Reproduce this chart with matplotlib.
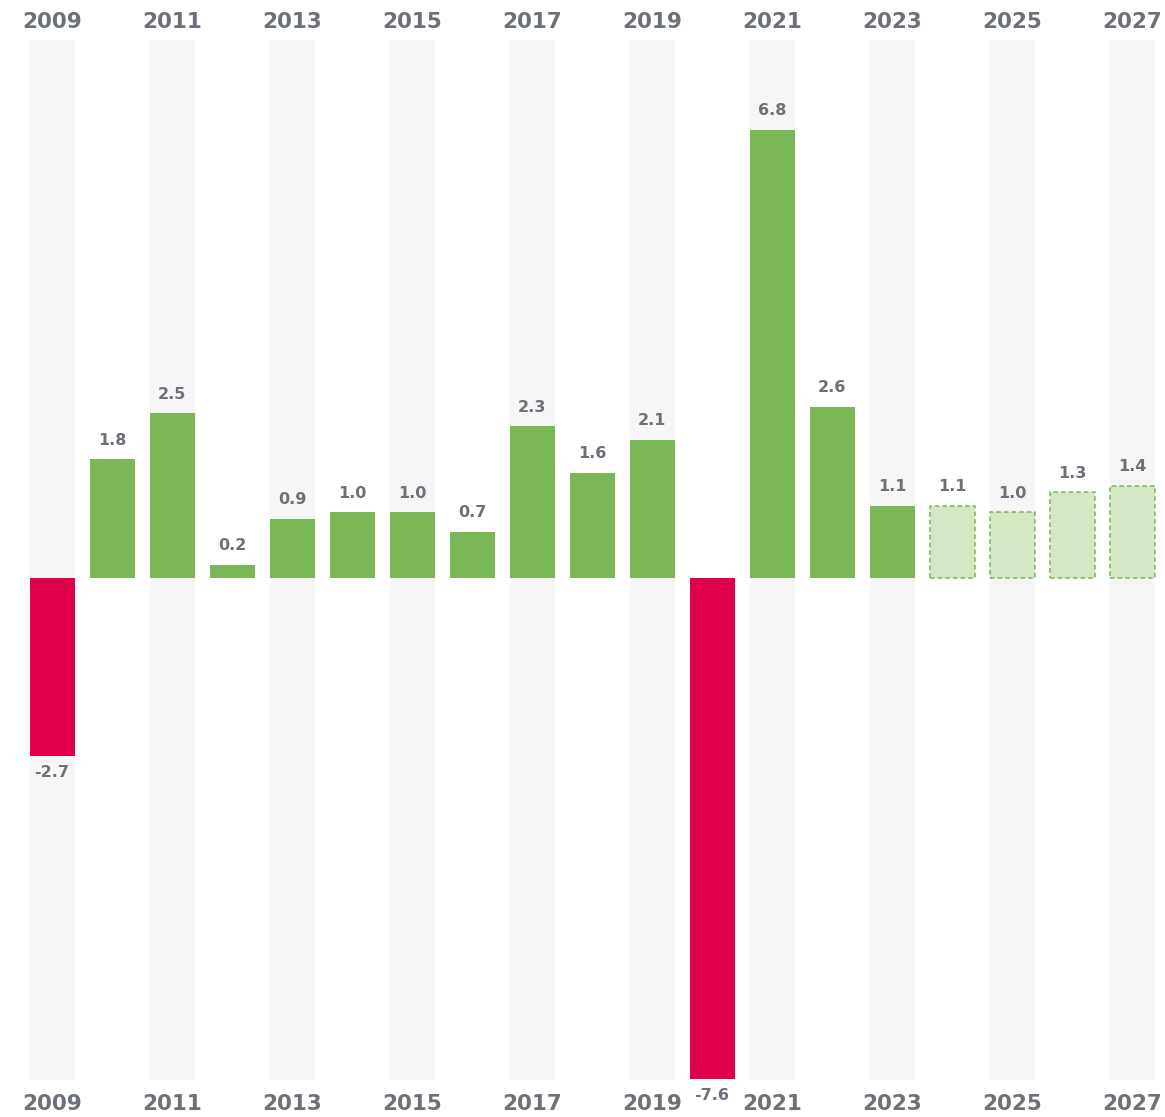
import matplotlib
matplotlib.use("Agg")
import matplotlib.pyplot as plt

years = list(range(2009, 2028))
values = [-2.7, 1.8, 2.5, 0.2, 0.9, 1.0, 1.0, 0.7, 2.3, 1.6, 2.1, -7.6, 6.8, 2.6, 1.1, 1.1, 1.0, 1.3, 1.4]
forecast_from = 2024
stripe_years = list(range(2009, 2028, 2))
year_labels = [str(y) for y in stripe_years]

GREEN = "#7ab855"
RED = "#e0004a"
LIGHT = "#d5e7c4"
STRIPE = "#f6f6f6"
TEXT = "#6b7079"

W, H = 1165, 1117
fig = plt.figure(figsize=(W / 100, H / 100), dpi=100)
ax = fig.add_axes([0, 0, 1, 1])

px_per_year = 60.0
x0_px = 52.0
zero_px = 578.0
px_per_unit = 65.9
ax.set_xlim(2009 - x0_px / px_per_year, 2009 + (W - x0_px) / px_per_year)
ax.set_ylim(-(H - zero_px) / px_per_unit, zero_px / px_per_unit)
ax.axis("off")

bw = 45 / px_per_year
stripe_top = (zero_px - 40) / px_per_unit
stripe_bot = -(1080 - zero_px) / px_per_unit

for y in stripe_years:
    ax.bar(y, stripe_top - stripe_bot, bottom=stripe_bot, width=bw, color=STRIPE, zorder=0)

for y, v in zip(years, values):
    if y >= forecast_from:
        ax.bar(y, v, width=bw, facecolor=LIGHT, edgecolor=GREEN, linestyle=(0, (3, 2)),
               linewidth=1.1, zorder=2)
    else:
        ax.bar(y, v, width=bw, color=RED if v < 0 else GREEN, zorder=2)
    off = 19 if v >= 0 else -17
    ax.annotate(f"{v:.1f}", (y, v), xytext=(0, off), textcoords="offset pixels",
                ha="center", va="center", fontsize=11.5, fontweight="bold",
                color=TEXT, family="DejaVu Sans", zorder=3)

for y, lab in zip(stripe_years, year_labels):
    ax.text(y, zero_px / px_per_unit - 22 / px_per_unit, lab, ha="center", va="center",
            fontsize=15.5, fontweight="bold", color=TEXT, family="DejaVu Sans")
    ax.text(y, -(1104 - zero_px) / px_per_unit, lab, ha="center", va="center",
            fontsize=15.5, fontweight="bold", color=TEXT, family="DejaVu Sans")

fig.savefig("out.png", dpi=100, facecolor="white")
